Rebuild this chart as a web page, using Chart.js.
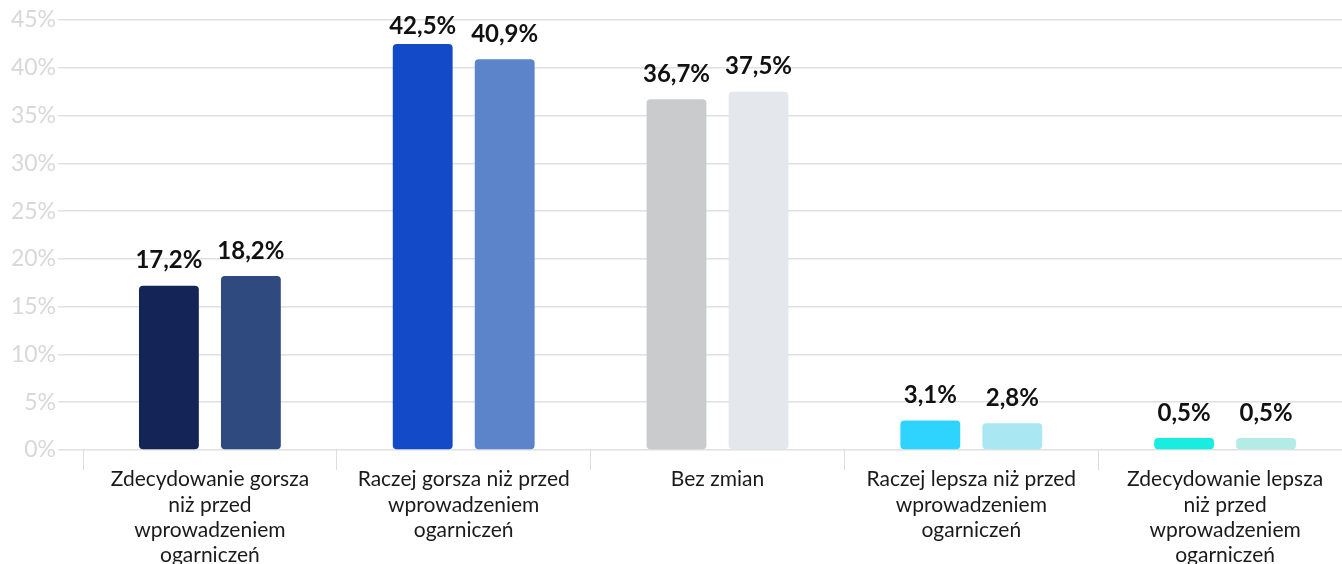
<!DOCTYPE html>
<html lang="pl">
<head>
    <meta charset="UTF-8">
    <title>Ocena sytuacji</title>
    <script src="https://cdn.jsdelivr.net/npm/chart.js@4.4.2/dist/chart.umd.min.js"></script>
    <style>
        html, body { margin: 0; padding: 0; overflow: hidden; background: #fff; }
        canvas { display: block; }
    </style>
</head>
<body>

    <canvas id="barchart" width="1352" height="580"></canvas>

    <script>
        // categories (multi-line labels, as in the original)
        const categories = [
            ['Zdecydowanie gorsza', 'niż przed', 'wprowadzeniem', 'ogarniczeń'],
            ['Raczej gorsza niż przed', 'wprowadzeniem', 'ogarniczeń'],
            ['Bez zmian'],
            ['Raczej lepsza niż przed', 'wprowadzeniem', 'ogarniczeń'],
            ['Zdecydowanie lepsza', 'niż przed', 'wprowadzeniem', 'ogarniczeń']
        ];
        const seriesA = [17.2, 42.5, 36.7, 3.1, 0.5];
        const seriesB = [18.2, 40.9, 37.5, 2.8, 0.5];
        const colorsA = ['#142457', '#124ac8', '#cacbcd', '#2ed4fd', '#18ede0'];
        const colorsB = ['#2f4a7e', '#5b84ca', '#e4e7eb', '#a9e8f3', '#b3ece6'];
        const yTicks = [0, 5, 10, 15, 20, 25, 30, 35, 40, 45];

        const fmt = v => v.toFixed(1).replace('.', ',') + '%';

        // value labels above each bar (kept inside the top of the canvas)
        const valueLabels = {
            id: 'valueLabels',
            afterDatasetsDraw(chart) {
                const c = chart.ctx;
                c.save();
                c.font = 'bold 24px Lato';
                c.fillStyle = '#111';
                c.textAlign = 'center';
                c.textBaseline = 'bottom';
                chart.data.datasets.forEach((ds, i) => {
                    chart.getDatasetMeta(i).data.forEach((bar, j) => {
                        const y = Math.max(bar.y - 13, 38);
                        c.fillText(fmt(ds.data[j]), bar.x, y);
                    });
                });
                c.restore();
            }
        };

        const ctx = document.getElementById('barchart');

        new Chart(ctx, {
            type: 'bar',
            data: {
                labels: categories,
                datasets: [{
                    data: seriesA,
                    backgroundColor: colorsA,
                    borderRadius: 4,
                    borderSkipped: false,
                    minBarLength: 12
                }, {
                    data: seriesB,
                    backgroundColor: colorsB,
                    borderRadius: 4,
                    borderSkipped: false,
                    minBarLength: 12
                }]
            },
            options: {
                responsive: false,
                animation: false,
                categoryPercentage: 0.646,
                barPercentage: 0.73,
                layout: { padding: { top: 20, right: 0, left: 0, bottom: 0 } },
                plugins: {
                    legend: { display: false },
                    tooltip: { enabled: false }
                },
                scales: {
                    x: {
                        grid: {
                            drawOnChartArea: false,
                            drawTicks: true,
                            tickLength: 20,
                            color: '#dddddd'
                        },
                        border: { display: false },
                        ticks: {
                            color: '#1a1a1a',
                            font: { family: 'Lato', size: 21 },
                            padding: -3,
                            maxRotation: 0,
                            autoSkip: false
                        },
                        afterFit(scale) { scale.height = 130; }
                    },
                    y: {
                        min: 0,
                        max: 45,
                        afterBuildTicks(scale) {
                            scale.ticks = yTicks.map(v => ({ value: v }));
                        },
                        grid: {
                            color: '#e0e0e0',
                            tickLength: 25,
                            lineWidth: 1.5
                        },
                        border: { display: false },
                        ticks: {
                            color: '#d8d8d8',
                            font: { family: 'Lato', size: 23 },
                            padding: 2,
                            callback: v => v + '%'
                        },
                        afterFit(scale) { scale.width = 83; }
                    }
                }
            },
            plugins: [valueLabels]
        });
    </script>
</body>
</html>
